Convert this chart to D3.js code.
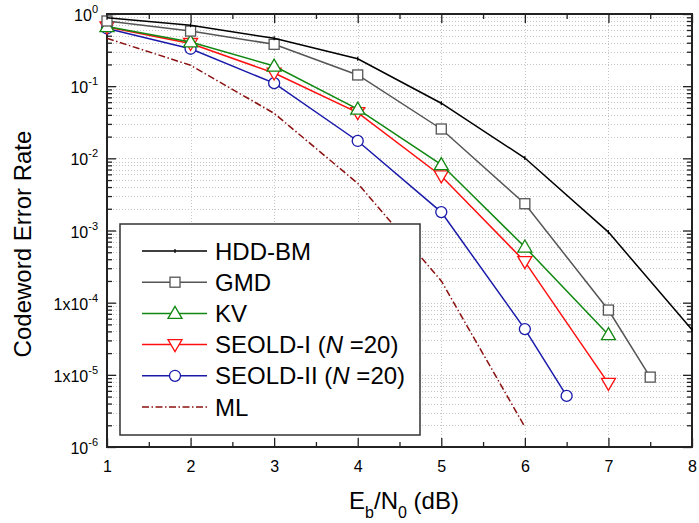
<!DOCTYPE html>
<html>
<head>
<meta charset="utf-8">
<script src="https://cdn.jsdelivr.net/npm/d3@7"></script>
<style>
  body { margin: 0; background: #fff; }
  svg { display: block; font-family: "Liberation Sans", Arial, sans-serif; }
</style>
</head>
<body>
<div id="chart"></div>
<script>
// Series data
const seriesNames = ['HDD-BM', 'GMD', 'KV', 'SEOLD-I', 'SEOLD-II', 'ML'];

const hddX = [1, 2, 3, 4, 5, 6, 7, 8];
const hddY = [0.89, 0.70, 0.46, 0.24, 0.058, 0.0101, 9.5e-4, 4.2e-5];

const gmdX = [1, 2, 3, 4, 5, 6, 7, 7.5];
const gmdY = [0.80, 0.58, 0.38, 0.143, 0.0255, 2.35e-3, 7.9e-5, 9.3e-6];

const kvX = [1, 2, 3, 4, 5, 6, 7];
const kvY = [0.67, 0.41, 0.19, 0.048, 0.0082, 5.9e-4, 3.6e-5];

const seold1X = [1, 2, 3, 4, 5, 6, 7];
const seold1Y = [0.66, 0.39, 0.152, 0.043, 0.0057, 3.7e-4, 7.6e-6];

const seold2X = [1, 2, 3, 4, 5, 6, 6.5];
const seold2Y = [0.63, 0.33, 0.11, 0.0174, 1.8e-3, 4.3e-5, 5.1e-6];

const mlX = [1, 2, 3, 4, 5, 6];
const mlY = [0.46, 0.195, 0.042, 4.5e-3, 2.0e-4, 1.9e-6];

// Tick labels
const xTicks = [1, 2, 3, 4, 5, 6, 7, 8];
const yTicks = [1, 1e-1, 1e-2, 1e-3, 1e-4, 1e-5, 1e-6];
const yTickBase = ['10', '10', '10', '10', '1x10', '1x10', '10'];
const yTickExp = ['0', '-1', '-2', '-3', '-4', '-5', '-6'];

const width = 699, height = 523;
const margin = { top: 14, right: 7, bottom: 76, left: 107 };

const svg = d3.select('#chart').append('svg')
    .attr('width', width)
    .attr('height', height);

const x = d3.scaleLinear().domain([1, 8]).range([margin.left, width - margin.right]);
const y = d3.scaleLog().domain([1e-6, 1]).range([height - margin.bottom, margin.top]);

const x0 = x.range()[0], x1 = x.range()[1];
const y0 = y.range()[0], y1 = y.range()[1];

// minor log values
const yMinor = [];
for (let e = -6; e < 0; e++) {
    for (let m = 2; m <= 9; m++) yMinor.push(m * Math.pow(10, e));
}
const xMinor = d3.range(1.5, 8, 1);

// Grid
const grid = svg.append('g').attr('class', 'grid')
    .attr('stroke', '#c4c4c4')
    .attr('stroke-width', 1)
    .attr('stroke-dasharray', '1,2');

grid.selectAll('.hg')
    .data(yMinor.concat(yTicks.filter(d => d > 1e-6 && d < 1)))
    .enter().append('line')
    .attr('x1', x0).attr('x2', x1)
    .attr('y1', d => Math.round(y(d)) + 0.5)
    .attr('y2', d => Math.round(y(d)) + 0.5);

grid.selectAll('.vg')
    .data(xTicks.filter(d => d > 1 && d < 8))
    .enter().append('line')
    .attr('y1', y0).attr('y2', y1)
    .attr('x1', d => Math.round(x(d)) + 0.5)
    .attr('x2', d => Math.round(x(d)) + 0.5);

// Axes (ticks point inward)
function styleAxis(g) {
    g.select('.domain').remove();
    g.selectAll('.tick line').attr('stroke', '#222').attr('stroke-width', 1.3);
}

svg.append('g')
    .attr('transform', `translate(0,${y0})`)
    .call(d3.axisBottom(x).tickValues(xTicks).tickSize(-9).tickPadding(14).tickFormat(d3.format('d')))
    .call(styleAxis)
    .call(g => g.selectAll('text')
        .attr('fill', '#000')
        .style('font-size', '16px')
        .style('font-family', '"Liberation Sans", Arial, sans-serif'));

svg.append('g')
    .attr('transform', `translate(0,${y0})`)
    .call(d3.axisBottom(x).tickValues(xMinor).tickSize(-5).tickFormat(''))
    .call(styleAxis);

svg.append('g')
    .attr('transform', `translate(0,${y1})`)
    .call(d3.axisTop(x).tickValues(xTicks).tickSize(-9).tickFormat(''))
    .call(styleAxis);

svg.append('g')
    .attr('transform', `translate(0,${y1})`)
    .call(d3.axisTop(x).tickValues(xMinor).tickSize(-5).tickFormat(''))
    .call(styleAxis);

svg.append('g')
    .attr('transform', `translate(${x0},0)`)
    .call(d3.axisLeft(y).tickValues(yTicks).tickSize(-9).tickFormat(''))
    .call(styleAxis);

svg.append('g')
    .attr('transform', `translate(${x0},0)`)
    .call(d3.axisLeft(y).tickValues(yMinor).tickSize(-5).tickFormat(''))
    .call(styleAxis);

svg.append('g')
    .attr('transform', `translate(${x1},0)`)
    .call(d3.axisRight(y).tickValues(yTicks).tickSize(-9).tickFormat(''))
    .call(styleAxis);

svg.append('g')
    .attr('transform', `translate(${x1},0)`)
    .call(d3.axisRight(y).tickValues(yMinor).tickSize(-5).tickFormat(''))
    .call(styleAxis);

// y tick labels with superscripts
const yLab = svg.append('g').attr('class', 'y-labels');
yTicks.forEach((v, i) => {
    const t = yLab.append('text')
        .attr('x', x0 - 9)
        .attr('y', y(v) + 7)
        .attr('text-anchor', 'end')
        .style('font-size', '16px')
        .attr('fill', '#000');
    t.append('tspan').text(yTickBase[i]);
    t.append('tspan').attr('dy', -8).style('font-size', '11px').text(yTickExp[i]);
});

// Frame
svg.append('rect')
    .attr('x', x0).attr('y', y1)
    .attr('width', x1 - x0).attr('height', y0 - y1)
    .attr('fill', 'none')
    .attr('stroke', '#222')
    .attr('stroke-width', 2);

// Axis titles
svg.append('text')
    .attr('transform', 'translate(31,244) rotate(-90)')
    .attr('text-anchor', 'middle')
    .style('font-size', '24px')
    .attr('fill', '#000')
    .text('Codeword Error Rate');

const xt = svg.append('text')
    .attr('x', 404)
    .attr('y', 509)
    .attr('text-anchor', 'middle')
    .style('font-size', '24px')
    .attr('fill', '#000');
xt.append('tspan').text('E');
xt.append('tspan').attr('dy', 9).style('font-size', '16px').text('b');
xt.append('tspan').attr('dy', -9).text('/N');
xt.append('tspan').attr('dy', 9).style('font-size', '16px').text('0');
xt.append('tspan').attr('dy', -9).text(' (dB)');

// Series
const series = [
    { name: seriesNames[0], xs: hddX, ys: hddY, color: '#000000', marker: 'bar', dash: null },
    { name: seriesNames[1], xs: gmdX, ys: gmdY, color: '#555555', marker: 'square', dash: null },
    { name: seriesNames[2], xs: kvX, ys: kvY, color: '#118811', marker: 'triUp', dash: null },
    { name: seriesNames[3], xs: seold1X, ys: seold1Y, color: '#ff1010', marker: 'triDown', dash: null },
    { name: seriesNames[4], xs: seold2X, ys: seold2Y, color: '#1a1aaa', marker: 'circle', dash: null },
    { name: seriesNames[5], xs: mlX, ys: mlY, color: '#8b1010', marker: null, dash: '7,2.5,1.5,2.5' }
];

const line = d3.line().x(d => x(d[0])).y(d => y(d[1]));

function drawMarker(g, type, cx, cy, color) {
    if (type === 'square') {
        g.append('rect').attr('x', cx - 5).attr('y', cy - 5).attr('width', 10).attr('height', 10)
            .attr('fill', '#fff').attr('stroke', color).attr('stroke-width', 1.3);
    } else if (type === 'triUp') {
        g.append('path').attr('d', `M${cx},${cy - 7}L${cx + 7},${cy + 5}L${cx - 7},${cy + 5}Z`)
            .attr('fill', '#fff').attr('stroke', color).attr('stroke-width', 1.3);
    } else if (type === 'triDown') {
        g.append('path').attr('d', `M${cx},${cy + 7}L${cx + 7},${cy - 5}L${cx - 7},${cy - 5}Z`)
            .attr('fill', '#fff').attr('stroke', color).attr('stroke-width', 1.3);
    } else if (type === 'circle') {
        g.append('circle').attr('cx', cx).attr('cy', cy).attr('r', 5.5)
            .attr('fill', '#fff').attr('stroke', color).attr('stroke-width', 1.3);
    } else if (type === 'bar') {
        g.append('line').attr('x1', cx).attr('x2', cx).attr('y1', cy - 2).attr('y2', cy + 2)
            .attr('stroke', color).attr('stroke-width', 1.2);
    }
}

const plot = svg.append('g').attr('class', 'series');
series.slice().reverse().forEach(s => {
    const pts = s.xs.map((v, i) => [v, s.ys[i]]);
    const g = plot.append('g');
    g.append('path')
        .datum(pts)
        .attr('d', line)
        .attr('fill', 'none')
        .attr('stroke', s.color)
        .attr('stroke-width', 1.5)
        .attr('stroke-dasharray', s.dash);
    if (s.marker) pts.forEach(p => drawMarker(g, s.marker, x(p[0]), y(p[1]), s.color));
});

// Legend
const legend = svg.append('g').attr('class', 'legend');
legend.append('rect')
    .attr('x', 120).attr('y', 224)
    .attr('width', 300).attr('height', 211)
    .attr('fill', '#fff')
    .attr('stroke', '#333')
    .attr('stroke-width', 1.5);

const legendRowY = d3.scaleLinear().domain([0, 5]).range([251, 407]);
series.forEach((s, i) => {
    const ly = legendRowY(i);
    const g = legend.append('g');
    g.append('line')
        .attr('x1', 142).attr('x2', 207)
        .attr('y1', ly).attr('y2', ly)
        .attr('stroke', s.color)
        .attr('stroke-width', 1.5)
        .attr('stroke-dasharray', s.dash);
    if (s.marker) drawMarker(g, s.marker, 175, ly, s.color);
    const t = g.append('text')
        .attr('x', 215).attr('y', ly + 8.5)
        .style('font-size', '24px')
        .attr('fill', '#000');
    if (s.name.startsWith('SEOLD')) {
        t.append('tspan').text(s.name + ' (');
        t.append('tspan').style('font-style', 'italic').text('N');
        t.append('tspan').text(' =20)');
    } else {
        t.text(s.name);
    }
});
</script>
</body>
</html>
